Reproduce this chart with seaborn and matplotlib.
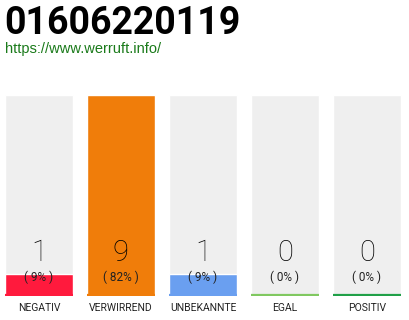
import matplotlib
matplotlib.use("Agg")
import matplotlib.pyplot as plt
import seaborn as sns
import pandas as pd

categories = ["NEGATIV", "VERWIRREND", "UNBEKANNTE", "EGAL", "POSITIV"]
counts = [1, 9, 1, 0, 0]
percents = [9, 82, 9, 0, 0]
colors = ["#ff1a3d", "#f07d0a", "#6a9ff0", "#80c860", "#20a048"]
title = "01606220119"
url = "https://www.werruft.info/"

sns.set_theme(style="white")
plt.rcParams["font.family"] = ["Roboto", "DejaVu Sans"]

W, H = 410, 320
fig = plt.figure(figsize=(W / 100, H / 100), dpi=100)
ax_left, ax_right = -2, 408
ax_top, ax_bot = 95, 296
ax = fig.add_axes([ax_left / W, 1 - ax_bot / H, (ax_right - ax_left) / W, (ax_bot - ax_top) / H])

df = pd.DataFrame({"cat": categories, "count": counts, "pct": percents})
ymax = max(percents)
df["bg"] = ymax

sns.barplot(data=df, x="cat", y="bg", color="#efefef", width=68 / 82, ax=ax, saturation=1)
sns.barplot(data=df, x="cat", y="pct", hue="cat", palette=colors, width=68 / 82,
            ax=ax, saturation=1, legend=False)
for i, c in enumerate(colors):
    ax.hlines(0.6, i - 34 / 82, i + 34 / 82, color=c, lw=1.6)

ax.set_xlim(-0.5, 4.5)
ax.set_ylim(0, ymax)
ax.axis("off")

for i, (n, p) in enumerate(zip(counts, percents)):
    ax.text(i, ymax * (296 - 253) / 201, str(n), ha="center", va="center",
            fontsize=21, fontweight="light", color="#000000")
    ax.text(i, ymax * (296 - 277) / 201, f"( {p}% )", ha="center", va="center",
            fontsize=8.5, color="#222222")
    ax.text(i, -ymax * 12 / 201, categories[i], ha="center", va="center",
            fontsize=7.5, color="#222222")

fig.text(4 / W, 1 - 23 / H, title, ha="left", va="center", fontsize=27,
         fontweight="bold", color="#000000")
fig.text(5 / W, 1 - 49 / H, url, ha="left", va="center", fontsize=10.5,
         color="#1a7a1a", family=["Liberation Sans", "DejaVu Sans"])

fig.savefig("out.png", dpi=100)
